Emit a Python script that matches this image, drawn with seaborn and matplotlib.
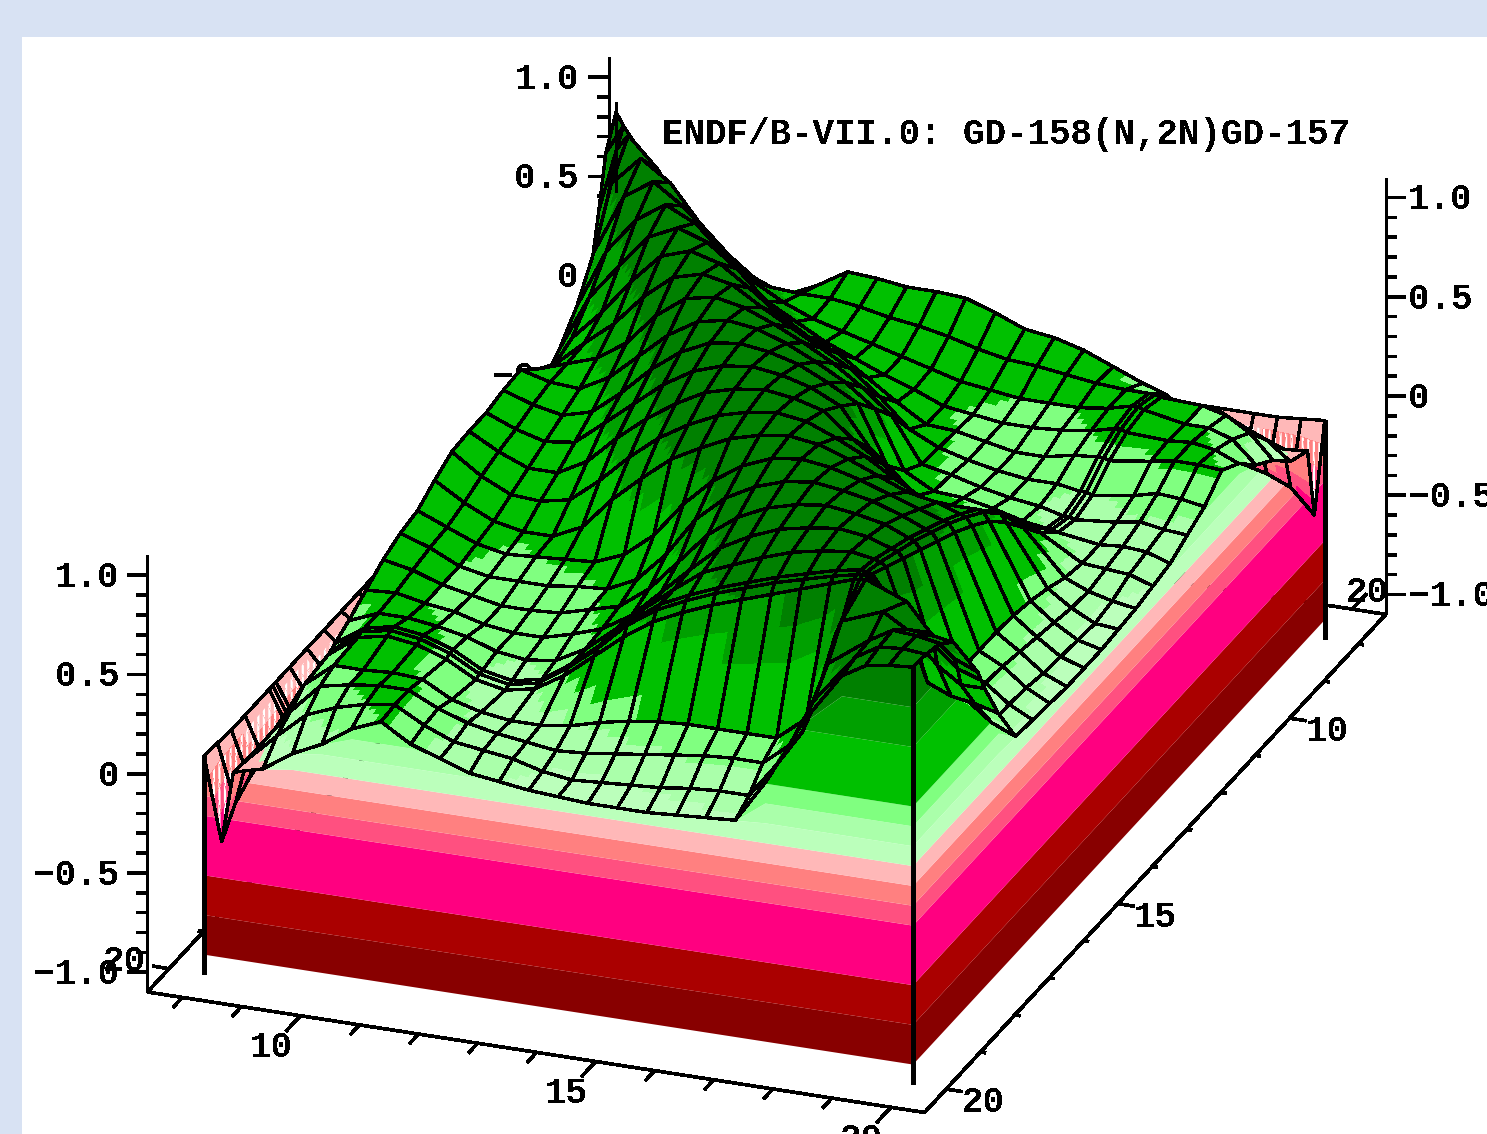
"""3D correlation surface, ENDF/B-VII.0 Gd-158(n,2n)Gd-157."""

import matplotlib
matplotlib.use("Agg")
import matplotlib.pyplot as plt
import numpy as np
import seaborn as sns
from matplotlib.patches import Rectangle
from mpl_toolkits.mplot3d.art3d import Poly3DCollection

TITLE = "ENDF/B-VII.0: GD-158(N,2N)GD-157"

ENERGY = [8, 8.3, 8.5, 9, 9.5, 10, 10.5, 11, 11.5, 12, 12.5, 13, 13.5, 14, 14.5,
          15, 15.5, 16, 16.5, 17, 17.5, 17.9, 18, 18.1, 18.8, 19.2, 19.6, 20]

# lower triangle of the correlation matrix, row i has values for ENERGY[0..i]
CORR_ROWS = [
    [1],
    [.85, 1],
    [.6, .92, 1],
    [.04, .55, .85, 1],
    [.02, .35, .6, .9, 1],
    [.02, .22, .42, .72, .9, 1],
    [.02, .13, .3, .58, .76, .93, 1],
    [.02, .08, .22, .47, .62, .8, .95, 1],
    [.01, .05, .18, .43, .56, .68, .84, .96, 1],
    [.01, .03, .16, .5, .55, .6, .7, .86, .97, 1],
    [.01, .02, .14, .59, .55, .54, .62, .75, .88, .97, 1],
    [.01, 0, .12, .58, .53, .5, .54, .66, .8, .91, .98, 1],
    [0, -.01, .08, .56, .5, .46, .48, .6, .72, .84, .93, .98, 1],
    [0, -.03, .05, .56, .48, .42, .42, .5, .64, .76, .86, .94, .98, 1],
    [-.01, -.04, .02, .55, .45, .38, .37, .4, .52, .66, .78, .87, .94, .98, 1],
    [-.02, -.05, 0, .5, .41, .34, .31, .31, .38, .54, .67, .79, .87, .94, .98, 1],
    [-.02, -.06, -.02, .44, .38, .32, .29, .3, .31, .32, .38, .5, .68, .82, .92, .98, 1],
    [-.02, -.08, -.03, .42, .37, .3, .27, .27, .27, .29, .3, .37, .52, .72, .85, .93, .98, 1],
    [-.02, -.1, -.04, .38, .35, .3, .27, .24, .24, .25, .29, .33, .44, .6, .76, .87, .94, .98, 1],
    [-.02, -.12, -.05, .32, .33, .3, .28, .24, .22, .22, .26, .31, .4, .54, .68, .81, .89, .95, .98, 1],
    [-.02, -.15, -.06, .26, .32, .32, .3, .27, .22, .2, .22, .3, .42, .55, .67, .78, .84, .9, .95, .98, 1],
    [-.02, -.18, -.06, .22, .32, .35, .33, .28, .2, .17, .2, .3, .42, .56, .67, .74, .8, .85, .9, .94, .98, 1],
    [-.02, -.18, -.06, .2, .32, .35, .33, .28, .2, .17, .2, .3, .42, .56, .66, .73, .79, .84, .89, .93, .97, .995, 1],
    [-.02, -.19, -.06, .2, .31, .34, .32, .27, .19, .16, .19, .28, .4, .52, .62, .69, .75, .8, .85, .9, .95, .99, .995, 1],
    [-.02, -.22, -.07, .18, .3, .3, .31, .3, .22, .18, .16, .16, .18, .22, .25, .27, .28, .28, .28, .28, .4, .7, .85, .92, 1],
    [-.02, -.25, -.07, .12, .27, .3, .32, .32, .25, .2, .17, .15, .13, .14, .16, .18, .2, .22, .23, .23, .35, .58, .7, .78, .93, 1],
    [-.01, -.3, -.07, .07, .2, .26, .3, .32, .24, .18, .16, .14, .1, .08, .09, .1, .11, .13, .14, .14, .33, .5, .6, .67, .92, .99, 1],
    [0, -.42, -.06, -.02, .08, .15, .25, .31, .22, .17, .12, .1, .08, .07, .06, .06, .06, .07, .08, .09, .3, .5, .56, .62, .9, .97, .99, 1],
]

LEVELS = [-1, -.8, -.6, -.3, -.2, -.1, 0, .1, .2, .3, .6, .8, 1.0001]
BAND_HEX = ["#880000", "#AA0000", "#FF0080", "#FF5080", "#FF8080", "#FFB8B8",
            "#BBFFBB", "#AAFFAA", "#80FF80", "#00C000", "#00A000", "#008000"]

Z_MAJOR = [-1, -.5, 0, .5, 1]
Z_LABELS = ["\u22121.0", "\u22120.5", "0", "0.5", "1.0"]
Z_MINOR = [-.9, -.8, -.7, -.6, -.4, -.3, -.2, -.1, .1, .2, .3, .4, .6, .7, .8, .9]
E_TICKS = list(range(8, 21))
E_LABELS = [10, 15, 20]

# ranges of the drawn box (plot x is the energy running to lower left)
XLIM = (7.2, 20.63)
YLIM = (7.41, 20.57)
ZLIM = (-1.1, 1.1)
ELEV, AZIM = 24.15, 20.75
PX_X, PX_Y = 1163 / 12, 758 / 12
FONT = dict(family="Liberation Mono", fontweight="bold", fontsize=25.8, color="black")

sns.set_theme(style="white")
plt.rcParams["hatch.linewidth"] = 1.6
plt.rcParams["text.antialiased"] = False
palette = sns.color_palette(BAND_HEX)

energy = np.array(ENERGY, dtype=float)
n = len(energy)
corr = np.zeros((n, n))
for i, row in enumerate(CORR_ROWS):
    corr[i, :i + 1] = row
    corr[:i + 1, i] = row

fig = plt.figure(figsize=(14.87, 11.34), dpi=100, facecolor="#D8E2F3")
fig.add_artist(Rectangle((22 / 1487, 0), 1, 1 - 37 / 1134, transform=fig.transFigure,
                         facecolor="white", edgecolor="none", zorder=-5))
ax = fig.add_axes([(745 - 800) / 1487, (527.5 - 800) / 1134, 1600 / 1487, 1600 / 1134],
                  projection="3d", proj_type="ortho", computed_zorder=False)
ax.view_init(elev=ELEV, azim=AZIM)
ax.set_box_aspect((1302, 831, 478.5), zoom=1.028 * 1527 / 1600)
ax.set_axis_off()
ax.patch.set_alpha(0)
ax.set_xlim(*XLIM)
ax.set_ylim(*YLIM)
ax.set_zlim(*ZLIM)


def shift(px):
    """Offset in plot x and y that moves a point px pixels along the screen."""
    phi = np.radians(AZIM)
    return -np.sin(phi) * px / PX_X, np.cos(phi) * px / PX_Y


def line(xs, ys, zs, lw=1.9, zorder=1):
    ax.plot(xs, ys, zs, color="black", lw=lw, antialiased=False, zorder=zorder,
            solid_capstyle="butt")


# frame and ticks, the surface hides what lies behind it
xa, xb = XLIM
ya, yb = YLIM
za, zb = ZLIM
line([xb, xb, xa, xa, xb], [ya, yb, yb, ya, ya], [za] * 5)
for cx, cy, tick_dir, lab_px, ha in [(xb, ya, -1, -28, "right"), (xa, ya, -1, -30, "right"),
                                     (xa, yb, 1, 22, "left")]:
    line([cx, cx], [cy, cy], [za, zb])
    for z_val, z_text in zip(Z_MAJOR, Z_LABELS):
        dx, dy = shift(tick_dir * 20)
        line([cx, cx + dx], [cy, cy + dy], [z_val, z_val], zorder=1)
        dx, dy = shift(lab_px)
        ax.text(cx + dx, cy + dy, z_val - .012, z_text, ha=ha, va="center", zorder=2, **FONT)
    for z_val in Z_MINOR:
        dx, dy = shift(tick_dir * 11)
        line([cx, cx + dx], [cy, cy + dy], [z_val, z_val], zorder=1)

for e in E_TICKS:
    major = e in E_LABELS
    # front edges
    line([xb, xb + (.42 if major else .27)], [e, e], [za, za])
    line([e, e], [yb, yb + (.28 if major else .09)], [za, za])
    # back edges
    line([e, e], [ya, ya - (.28 if major else .09)], [za, za])
    line([xa, xa - (.42 if major else .27)], [e, e], [za, za])
for e in E_LABELS:
    ax.text(21.49, e, za, str(e), ha="center", va="center", zorder=2, **FONT)
    ax.text(e, 21.2, za - .04, str(e), ha="center", va="center", zorder=2, **FONT)
ax.text(20, ya - .76, za, "20", ha="center", va="center", zorder=2, **FONT)
ax.text(xa - .45, 20, za, "20", ha="center", va="center", zorder=2, **FONT)

# side walls, bands stop at the surface edge
keep = energy != 8.3
wall_e = energy[keep]
edge = corr[-1, keep]
top = wall_e[-1]
for lo, hi, color in zip(LEVELS[:-1], LEVELS[1:], palette):
    z1, z2 = np.minimum(lo, edge), np.minimum(hi, edge)
    ax.fill_between(np.full_like(wall_e, top), wall_e, z1, np.full_like(wall_e, top), wall_e, z2,
                    mode="polygon", facecolors=color, shade=False, linewidth=0,
                    antialiased=False, zorder=3)
    ax.fill_between(wall_e, np.full_like(wall_e, top), z1, wall_e, np.full_like(wall_e, top), z2,
                    mode="polygon", facecolors=color, shade=False, linewidth=0,
                    antialiased=False, zorder=3)

# surface, cell by cell from the back so the grid lines hide properly
SUB = 4
weights = np.linspace(0, 1, SUB + 1)
order = 10
for i in range(n - 1):
    for j in range(n - 1):
        xs = energy[i] + weights * (energy[i + 1] - energy[i])
        ys = energy[j] + weights * (energy[j + 1] - energy[j])
        c = corr[i:i + 2, j:j + 2]
        # colour bands inside one grid cell
        left = c[0, 0] + weights * (c[0, 1] - c[0, 0])
        right = c[1, 0] + weights * (c[1, 1] - c[1, 0])
        zz = np.outer(1 - weights, left) + np.outer(weights, right)
        plain, plain_col, striped, striped_col = [], [], [], []
        for k in range(SUB):
            for m in range(SUB):
                quad = [(xs[k], ys[m], zz[k, m]), (xs[k + 1], ys[m], zz[k + 1, m]),
                        (xs[k + 1], ys[m + 1], zz[k + 1, m + 1]), (xs[k], ys[m + 1], zz[k, m + 1])]
                mean = zz[k:k + 2, m:m + 2].mean()
                band = int(np.clip(np.digitize(mean, LEVELS) - 1, 0, len(palette) - 1))
                if (i == 0 or j == 0) and mean < -.06:
                    striped.append(quad)
                    striped_col.append(palette[band])
                else:
                    plain.append(quad)
                    plain_col.append(palette[band])
        if plain:
            ax.add_collection3d(Poly3DCollection(plain, facecolors=plain_col, edgecolors="none",
                                                 linewidths=0, antialiaseds=False, zorder=order),
                                autolim=False)
        if striped:
            ax.add_collection3d(Poly3DCollection(striped, facecolors=striped_col, edgecolors="white",
                                                 linewidths=0, antialiaseds=False, hatch="|||",
                                                 zorder=order), autolim=False)
        line([xs[0], xs[-1], xs[-1], xs[0], xs[0]], [ys[0], ys[0], ys[-1], ys[-1], ys[0]],
             [c[0, 0], c[1, 0], c[1, 1], c[0, 1], c[0, 0]], lw=1.7, zorder=order + 1)
        order += 2

# box edges in front of the walls
line([20, 20], [8, 8], [za, corr[-1, 0]], lw=2.2, zorder=order)
line([20, 20], [20, 20], [za, 1], lw=2.2, zorder=order)
line([8, 8], [20, 20], [za, corr[-1, 0]], lw=2.2, zorder=order)
line([8, 8], [8, 8], [.6, 1.05], lw=1.9, zorder=order)

ax.set_xlim(*XLIM)
ax.set_ylim(*YLIM)
ax.set_zlim(*ZLIM)

fig.text(662 / 1487, 1 - 134 / 1134, TITLE, ha="left", va="center", **FONT)

fig.savefig("out.png", dpi=100, facecolor=fig.get_facecolor())
